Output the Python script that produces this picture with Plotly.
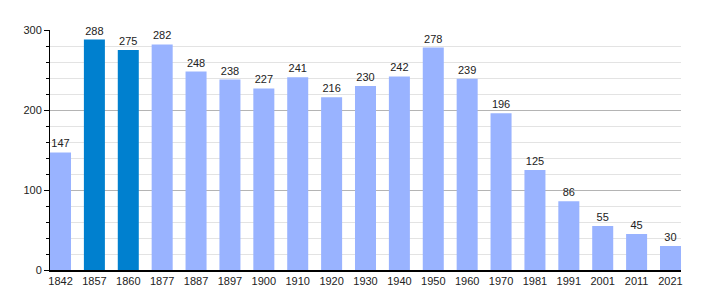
import plotly.graph_objects as go

years = ["1842", "1857", "1860", "1877", "1887", "1897", "1900", "1910", "1920", "1930",
         "1940", "1950", "1960", "1970", "1981", "1991", "2001", "2011", "2021"]
population = [147, 288, 275, 282, 248, 238, 227, 241, 216, 230, 242, 278, 239, 196, 125, 86, 55, 45, 30]
highlight = ["1857", "1860"]

light = "#99b3ff"
dark = "#0080cf"
colors = [dark if y in highlight else light for y in years]

fig = go.Figure(go.Bar(
    x=list(range(len(years))), y=population,
    width=0.62,
    marker=dict(color=colors, line=dict(width=0)),
    text=[str(v) for v in population], textposition="outside",
    textfont=dict(size=11, color="#222222", family="Liberation Sans, Arial, sans-serif"),
    cliponaxis=False,
))

fig.update_layout(
    width=710, height=300,
    margin=dict(l=50, r=29, t=30, b=30),
    plot_bgcolor="white", paper_bgcolor="white",
    showlegend=False,
    font=dict(family="Liberation Sans, Arial, sans-serif", size=11, color="#222222"),
    xaxis=dict(
        tickmode="array", tickvals=list(range(len(years))), ticktext=years,
        range=[-0.31, len(years) - 1 + 0.31],
        showline=True, linecolor="black", linewidth=1.5,
        showgrid=False, ticks="", zeroline=False,
        tickfont=dict(size=11, color="#222222"),
    ),
    yaxis=dict(
        range=[0, 300], dtick=100, tick0=0,
        showline=True, linecolor="black", linewidth=1,
        ticks="outside", ticklen=5, tickcolor="black",
        showgrid=True, gridcolor="#b4b4b4", gridwidth=1,
        zeroline=False,
        minor=dict(dtick=20, ticks="outside", ticklen=3, tickcolor="black",
                   showgrid=True, gridcolor="#e3e3e3", gridwidth=1),
        tickfont=dict(size=11, color="#222222"),
    ),
)

fig.write_html("out.html")
